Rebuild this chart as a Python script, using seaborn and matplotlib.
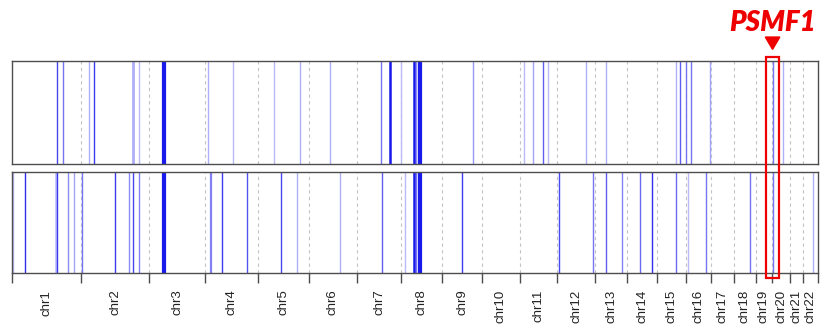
import matplotlib
matplotlib.use("Agg")
import matplotlib.pyplot as plt
import matplotlib.transforms as mtransforms
from matplotlib.patches import Rectangle, Polygon
import seaborn as sns
import numpy as np
import pandas as pd

# hg19 chromosome lengths (Mb)
chrom_names = ["chr%d" % i for i in range(1, 23)]
chrom_len_mb = [249.25, 243.20, 198.02, 191.15, 180.92, 171.12, 159.14, 146.36,
                141.21, 135.53, 135.01, 133.85, 115.17, 107.35, 102.53, 90.35,
                81.20, 78.08, 59.13, 63.03, 48.13, 51.30]

# events, genome-wide position (Mb), intensity (0-1), region size (Mb)
top_pos = [163.0, 183.4, 275.2, 295.3, 432.5, 456.1, 543.3, 700.6, 789.3, 935.8,
           1029.5, 1137.8, 1319.0, 1353.3, 1392.6, 1437.0, 1446.2, 1460.5, 1648.9, 1832.3,
           1862.3, 1899.1, 1917.0, 2054.6, 2125.4, 2376.3, 2389.9, 2408.5, 2428.2, 2495.4,
           2719.7, 2757.0]
top_score = [0.8, 0.6, 0.35, 0.85, 0.35, 0.3, 1.0, 0.35, 0.3, 0.3,
             0.35, 0.35, 0.6, 1.0, 0.3, 1.0, 0.5, 1.0, 0.45, 0.3,
             0.4, 0.7, 0.3, 0.35, 0.35, 0.35, 0.7, 0.6, 0.6, 0.4,
             0.6, 0.35]
top_span = [3.5, 3.5, 3.5, 3.5, 10, 3.5, 15, 3.5, 3.5, 3.5,
            3.5, 3.5, 3.5, 9, 3.5, 9, 5, 15, 3.5, 3.5,
            3.5, 3.5, 3.5, 3.5, 3.5, 3.5, 3.5, 3.5, 3.5, 3.5,
            3.5, 3.5]

bot_pos = [5.7, 47.5, 156.6, 161.9, 200.2, 223.4, 252.4, 370.3, 419.3, 431.8,
           454.0, 543.3, 711.7, 750.6, 840.0, 961.5, 1019.4, 1173.5, 1325.4, 1405.9,
           1437.0, 1446.2, 1460.5, 1609.6, 1957.4, 2076.8, 2126.1, 2182.6, 2246.9, 2289.8,
           2375.6, 2417.4, 2481.8, 2639.1, 2719.7, 2865.3]
bot_score = [0.3, 0.9, 0.3, 0.85, 0.5, 0.4, 0.6, 0.85, 0.5, 0.8,
             0.55, 1.0, 0.55, 0.85, 0.75, 0.8, 0.35, 0.35, 0.7, 0.3,
             1.0, 0.6, 1.0, 0.85, 0.8, 0.6, 0.7, 0.55, 0.65, 0.9,
             0.65, 0.3, 0.6, 0.6, 0.6, 0.35]
bot_span = [3.5, 5, 9, 3.5, 3.5, 3.5, 3.5, 4, 3.5, 4,
            3.5, 15, 8, 4, 4, 4, 3.5, 3.5, 3.5, 3.5,
            9, 5, 15, 4, 5, 3.5, 4, 3.5, 3.5, 5,
            3.5, 3.5, 3.5, 3.5, 3.5, 3.5]

gene_name = "PSMF1"
gene_pos = 2719.7

sns.set_theme(style="white")
plt.rcParams["font.family"] = ["Liberation Sans", "DejaVu Sans"]

bounds = np.concatenate([[0], np.cumsum(chrom_len_mb)])
centers = (bounds[:-1] + bounds[1:]) / 2
total = bounds[-1]

fig = plt.figure(figsize=(8.27, 3.25), dpi=100)
ax_top = fig.add_axes([0.01415, 0.4954, 0.9746, 0.3169])
ax_bot = fig.add_axes([0.01415, 0.1600, 0.9746, 0.3108])

px_per_mb = 0.9746 * 827 / total


def blue(a):
    # blue over white, opaque
    return (1 - a * 0.9, 1 - a * 0.9, 1.0 - a * 0.08)


for ax, df in [(ax_top, pd.DataFrame({"pos": top_pos, "score": top_score, "span": top_span})),
               (ax_bot, pd.DataFrame({"pos": bot_pos, "score": bot_score, "span": bot_span}))]:
    ax.set_xlim(0, total)
    ax.set_ylim(0, 1)
    for b in bounds[1:-1]:
        ax.axvline(b, color="#c4c4c4", lw=0.8, ls=(0, (3, 3)), zorder=1)
    for _, r in df.sort_values("score").iterrows():
        lw = max(1.0, r["span"] * px_per_mb * 0.72)
        ax.axvline(r["pos"], color=blue(r["score"]), lw=lw, zorder=2,
                   solid_capstyle="butt")
    ax.set_yticks([])
    for s in ax.spines.values():
        s.set_color("#4d4d4d")
        s.set_linewidth(1.0)
        s.set_zorder(5)

ax_top.set_xticks([])
ax_bot.set_xticks(bounds)
ax_bot.set_xticklabels([])
ax_bot.tick_params(axis="x", which="major", bottom=True, length=7, width=1, color="#4d4d4d")
ax_bot.set_xticks(centers, minor=True)
ax_bot.set_xticklabels(chrom_names, minor=True, rotation=90, fontsize=9.5, color="#222222")
ax_bot.tick_params(axis="x", which="minor", bottom=True, length=0, pad=12)

# highlight box around the gene across both panels
trans = mtransforms.blended_transform_factory(ax_bot.transData, fig.transFigure)
half = 24.5
fig.patches.append(Rectangle((gene_pos - half, 0.145), 2 * half, 0.68, transform=trans,
                             fill=False, edgecolor="#ee0000", lw=1.6, zorder=10))
fig.patches.append(Polygon([(gene_pos - 26, 0.886), (gene_pos + 26, 0.886), (gene_pos, 0.848)],
                           closed=True, transform=trans, color="#ee0000", zorder=10))
fig.text(gene_pos, 0.928, gene_name, transform=trans, ha="center", va="center",
         color="#ee0000", fontsize=20, fontweight="heavy", fontstyle="italic",
         family=["Lato", "DejaVu Sans"])

fig.savefig("out.png", dpi=100)
plt.close(fig)
